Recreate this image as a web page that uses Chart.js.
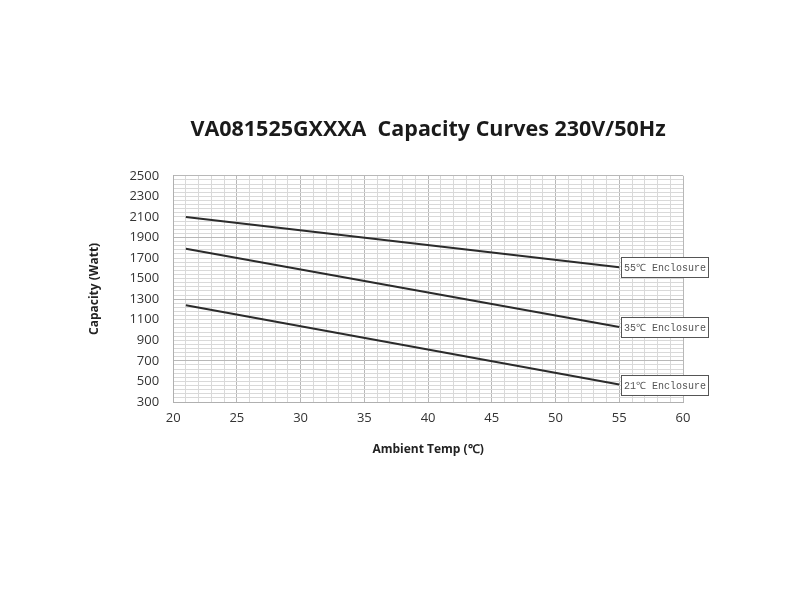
<!DOCTYPE html>
<html>
<head>
<meta charset="utf-8">
<script src="https://cdn.jsdelivr.net/npm/chart.js@4"></script>
<style>
html, body { margin: 0; padding: 0; background: #fff; }
#wrap { width: 800px; height: 600px; }
</style>
</head>
<body>
<div id="wrap"><canvas id="capacity-chart"></canvas></div>
<script>
const temps = [21, 55];
const enclosure55 = [2100, 1610];
const enclosure35 = [1790, 1030];
const enclosure21 = [1240, 470];
const seriesLabels = ['55℃ Enclosure', '35℃ Enclosure', '21℃ Enclosure'];
const xTickLabels = [20, 25, 30, 35, 40, 45, 50, 55, 60];
const yTickLabels = [300, 500, 700, 900, 1100, 1300, 1500, 1700, 1900, 2100, 2300, 2500];
const xMinorStep = 1;
const yMinorStep = 40;

const toPoints = (vals) => vals.map((v, i) => ({ x: temps[i], y: v }));

// minor grid ticks between the labelled ones
function stepTicks(labels, step) {
    const out = [];
    const first = labels[0], last = labels[labels.length - 1];
    for (let v = first; v <= last + 0.001; v += step) {
        out.push({ value: Math.round(v * 100) / 100 });
    }
    return out;
}

const endLabels = {
    id: 'endLabels',
    afterDatasetsDraw(chart) {
        const ctx = chart.ctx;
        const xs = chart.scales.x, ys = chart.scales.y;
        ctx.save();
        ctx.font = '10px "Liberation Mono"';
        ctx.textBaseline = 'middle';
        chart.data.datasets.forEach((ds, i) => {
            const last = ds.data[ds.data.length - 1];
            const px = Math.round(xs.getPixelForValue(last.x)) + 2;
            const py = Math.round(ys.getPixelForValue(last.y));
            const w = 87, h = 20;
            ctx.fillStyle = '#fff';
            ctx.fillRect(px, py - h / 2, w, h);
            ctx.strokeStyle = '#555';
            ctx.lineWidth = 1;
            ctx.strokeRect(px + 0.5, py - h / 2 + 0.5, w, h);
            ctx.fillStyle = '#555';
            ctx.fillText(seriesLabels[i], px + 3, py + 1);
        });
        ctx.restore();
    }
};

const capacityCanvas = document.getElementById('capacity-chart');

let capacityChart = new Chart(capacityCanvas, {
    type: 'line',
    data: {
        datasets: [
            { label: seriesLabels[0], data: toPoints(enclosure55) },
            { label: seriesLabels[1], data: toPoints(enclosure35) },
            { label: seriesLabels[2], data: toPoints(enclosure21) }
        ]
    },
    options: {
        responsive: true,
        maintainAspectRatio: false,
        animation: false,
        layout: {
            padding: { top: 117, right: 117, bottom: 139, left: 83 }
        },
        elements: {
            line: { borderColor: '#2b2b2b', borderWidth: 2, tension: 0 },
            point: { radius: 0 }
        },
        scales: {
            x: {
                type: 'linear',
                min: 20,
                max: 60,
                afterBuildTicks: (scale) => { scale.ticks = stepTicks(xTickLabels, xMinorStep); },
                ticks: {
                    autoSkip: false,
                    maxRotation: 0,
                    padding: 8,
                    color: '#333',
                    font: { family: 'Open Sans', size: 13 },
                    callback: (v) => xTickLabels.includes(v) ? String(v) : ''
                },
                grid: {
                    drawTicks: false,
                    color: (c) => (c.tick && c.tick.value % 5 === 0) ? '#b8b8b8' : '#d9d9d9'
                },
                border: { color: '#b0b0b0' },
                title: {
                    display: true,
                    text: 'Ambient Temp (℃)',
                    color: '#222',
                    font: { family: 'Open Sans', size: 12, weight: 'bold' },
                    padding: { top: 9 }
                }
            },
            y: {
                type: 'linear',
                min: 300,
                max: 2500,
                afterBuildTicks: (scale) => { scale.ticks = stepTicks(yTickLabels, yMinorStep); },
                ticks: {
                    autoSkip: false,
                    padding: 14,
                    color: '#333',
                    font: { family: 'Open Sans', size: 13 },
                    callback: (v) => yTickLabels.includes(v) ? String(v) : ''
                },
                grid: {
                    drawTicks: false,
                    color: (c) => (c.tick && (c.tick.value - 100) % 600 === 0) ? '#b8b8b8' : '#d9d9d9'
                },
                border: { color: '#b0b0b0' },
                title: {
                    display: true,
                    text: 'Capacity (Watt)',
                    color: '#222',
                    font: { family: 'Open Sans', size: 12, weight: 'bold' },
                    padding: { bottom: 14 }
                }
            }
        },
        plugins: {
            legend: { display: false },
            tooltip: { enabled: false },
            title: {
                display: true,
                fullSize: false,
                text: 'VA081525GXXXA  Capacity Curves 230V/50Hz',
                color: '#1a1a1a',
                font: { family: 'Open Sans', size: 21.5, weight: 'bold' },
                padding: { top: 0, bottom: 33 }
            }
        }
    },
    plugins: [endLabels]
});
</script>
</body>
</html>
